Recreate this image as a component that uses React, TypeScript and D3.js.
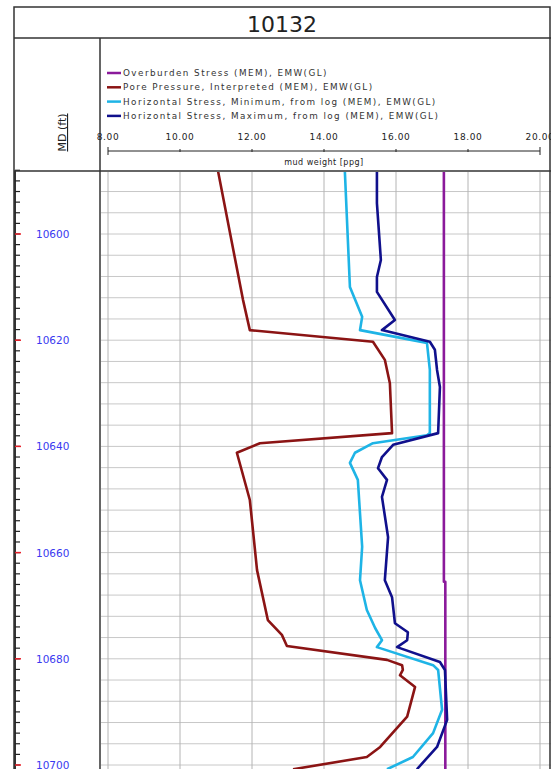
import React from 'react';
import * as d3 from 'd3';

type Pt = [number, number]; // [depth ft, mud weight ppg]

const title = '10132';
const legendLabels = [
  'Overburden Stress (MEM), EMW(GL)',
  'Pore Pressure, Interpreted (MEM), EMW(GL)',
  'Horizontal Stress, Minimum, from log (MEM), EMW(GL)',
  'Horizontal Stress, Maximum, from log (MEM), EMW(GL)',
];
const seriesColors = ['#8B1A9B', '#8B1414', '#1EB4E6', '#10108C'];
const xTicks = [8, 10, 12, 14, 16, 18, 20];
const depthLabels = [10600, 10620, 10640, 10660, 10680, 10700];

const overburden: Pt[] = [
  [10588.3, 17.33], [10665.5, 17.33], [10665.5, 17.37], [10700.8, 17.37],
];
const porePressure: Pt[] = [
  [10588.3, 11.06], [10612.4, 11.75], [10618.1, 11.94], [10620.3, 15.36],
  [10623.7, 15.69], [10628.1, 15.83], [10637.5, 15.89], [10639.4, 12.22],
  [10641.2, 11.58], [10650.1, 11.94], [10663.3, 12.14], [10672.7, 12.44],
  [10675.5, 12.83], [10677.6, 12.97], [10680.2, 15.75], [10681.2, 16.17],
  [10682.1, 16.19], [10683.1, 16.11], [10685.3, 16.53], [10690.9, 16.31],
  [10696.6, 15.56], [10698.5, 15.19], [10700.8, 13.14],
];
const hMin: Pt[] = [
  [10588.3, 14.58], [10610.0, 14.72], [10615.6, 15.06], [10618.1, 15.0],
  [10620.5, 16.86], [10625.6, 16.94], [10637.5, 16.94], [10637.9, 16.86],
  [10639.4, 15.36], [10641.2, 14.86], [10643.1, 14.72], [10646.3, 14.94],
  [10658.9, 15.06], [10665.2, 15.0], [10670.8, 15.19], [10674.2, 15.42],
  [10676.5, 15.61], [10677.8, 15.47], [10681.2, 17.03], [10682.1, 17.17],
  [10689.6, 17.28], [10694.0, 17.03], [10698.5, 16.47], [10700.8, 15.75],
];
const hMax: Pt[] = [
  [10588.3, 15.47], [10594.2, 15.47], [10604.9, 15.58], [10608.1, 15.47],
  [10610.9, 15.47], [10616.2, 15.97], [10618.1, 15.61], [10620.3, 16.94],
  [10621.8, 17.08], [10625.6, 17.14], [10628.8, 17.22], [10637.5, 17.17],
  [10639.7, 15.92], [10642.0, 15.61], [10644.1, 15.5], [10646.3, 15.75],
  [10649.5, 15.61], [10657.1, 15.78], [10665.2, 15.69], [10668.4, 15.89],
  [10673.3, 15.97], [10675.0, 16.33], [10676.5, 16.31], [10677.8, 16.03],
  [10680.6, 17.22], [10682.1, 17.36], [10691.5, 17.42], [10696.6, 17.14],
  [10700.8, 16.58],
];

const W = 551;
const H = 769;
const frame = { left: 14, top: 7, right: 550 };
const titleBottom = 38;
const divider = 100;
const headerBottom = 171;
const font = 'Verdana, "DejaVu Sans", sans-serif';

export default function App() {
  const x = d3.scaleLinear().domain([8, 20]).range([108, 540]);
  const y = d3.scaleLinear().domain([10600, 10700]).range([234, 765]);
  const line = d3.line<Pt>().x((d) => x(d[1])).y((d) => y(d[0]));

  const gridDepths = d3.range(10592, 10701, 4);
  const minorDepths = d3.range(10588, 10701, 2);
  const series = [overburden, porePressure, hMin, hMax];

  return (
    <div style={{ position: 'absolute', left: 0, top: 0 }}>
      <svg width={W} height={H} style={{ display: 'block', background: '#fff' }}>
        <defs>
          <clipPath id="track">
            <rect x={divider + 1} y={headerBottom + 1} width={W - divider} height={H - headerBottom} />
          </clipPath>
        </defs>

        {/* track grid */}
        <g clipPath="url(#track)">
          {gridDepths.map((d) => (
            <line key={d} x1={divider} x2={W} y1={y(d)} y2={y(d)} stroke="#c8c8c8" strokeWidth={1} />
          ))}
          {xTicks.map((t) => (
            <line key={t} x1={x(t)} x2={x(t)} y1={headerBottom} y2={H} stroke="#b4b4b4" strokeWidth={1} />
          ))}
          {series.map((s, i) => (
            <path key={i} d={line(s) || ''} fill="none" stroke={seriesColors[i]} strokeWidth={2.6} strokeLinejoin="round" />
          ))}
        </g>

        {/* depth column */}
        <line x1={frame.left + 1} x2={frame.left + 1} y1={headerBottom} y2={H} stroke="#333" strokeWidth={2} />
        {minorDepths.map((d) => (
          <line key={d} x1={frame.left + 1} x2={frame.left + 6} y1={y(d)} y2={y(d)} stroke="#222" strokeWidth={1.2} />
        ))}
        {depthLabels.map((d) => (
          <g key={d}>
            <line x1={frame.left + 1} x2={frame.left + 7} y1={y(d)} y2={y(d)} stroke="#e8202a" strokeWidth={1.5} />
            <text x={36} y={y(d) + 4} fontFamily={font} fontSize={10.5} fill="#3a3af0">{d}</text>
          </g>
        ))}

        {/* frame */}
        <rect x={frame.left} y={frame.top} width={frame.right - frame.left} height={H} fill="none" stroke="#333" strokeWidth={1.5} />
        <line x1={frame.left} x2={W} y1={titleBottom} y2={titleBottom} stroke="#333" strokeWidth={1.5} />
        <line x1={frame.left} x2={W} y1={headerBottom} y2={headerBottom} stroke="#333" strokeWidth={1.5} />
        <line x1={divider} x2={divider} y1={titleBottom} y2={H} stroke="#333" strokeWidth={1.5} />

        <text x={282} y={32} textAnchor="middle" fontFamily={font} fontSize={22} fill="#222">{title}</text>

        <text
          transform={`translate(66,${(titleBottom + headerBottom) / 2 + 28}) rotate(-90)`}
          textAnchor="middle"
          fontFamily={font}
          fontSize={11}
          fill="#222"
          textDecoration="underline"
        >
          MD (ft)
        </text>

        {/* legend */}
        {legendLabels.map((l, i) => (
          <g key={l} transform={`translate(107,${73 + i * 14.3})`}>
            <line x1={0} x2={14} y1={0} y2={0} stroke={seriesColors[i]} strokeWidth={2.5} />
            <text x={16} y={3} fontFamily={font} fontSize={8.8} letterSpacing={1.45} fill="#333">{l}</text>
          </g>
        ))}

        {/* scale */}
        {xTicks.map((t) => (
          <g key={t}>
            <text x={x(t)} y={140} textAnchor="middle" fontFamily={font} fontSize={9} letterSpacing={0.6} fill="#222">
              {t.toFixed(2)}
            </text>
            <line x1={x(t)} x2={x(t)} y1={t === 8 || t === 20 ? 147 : 149} y2={t === 8 || t === 20 ? 155 : 152} stroke="#222" strokeWidth={1} />
          </g>
        ))}
        <line x1={x(8)} x2={x(20)} y1={151} y2={151} stroke="#222" strokeWidth={1} />
        <text x={324} y={165} textAnchor="middle" fontFamily={font} fontSize={8} letterSpacing={0.5} fill="#222">mud weight [ppg]</text>
      </svg>
    </div>
  );
}
